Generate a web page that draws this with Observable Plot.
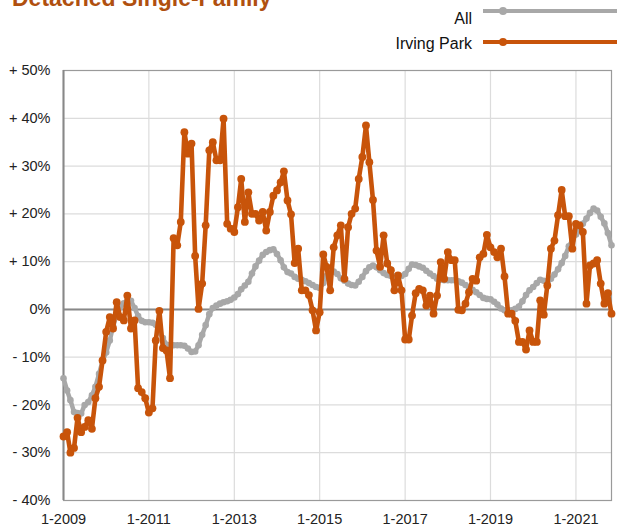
<!DOCTYPE html>
<html>
<head>
<meta charset="utf-8">
<script src="https://cdn.jsdelivr.net/npm/d3@7"></script>
<script src="https://cdn.jsdelivr.net/npm/@observablehq/plot@0.6"></script>
<style>
  html, body { margin: 0; padding: 0; background: #fff; overflow: hidden; }
  body { width: 617px; height: 526px; font-family: "Liberation Sans", Arial, Helvetica, sans-serif; }
  #head { position: relative; height: 55px; width: 617px; overflow: hidden; }
  #title { position: absolute; left: 12px; top: -13.5px; font-weight: bold; font-size: 23px; line-height: 23px; color: #b0500f; white-space: nowrap; }
  .lt { position: absolute; right: 145px; font-size: 16px; line-height: 16px; color: #111; white-space: nowrap; }
  .ll { position: absolute; left: 483px; width: 150px; height: 4px; }
  .ld { position: absolute; left: 499px; width: 8px; height: 8px; border-radius: 50%; }
  #chart svg { display: block; }
</style>
</head>
<body>
<div id="head"></div>
<div id="chart"></div>
<script>
// ---- data ----
const titleText = "Detached Single-Family";
const seriesNames = ["All", "Irving Park"];
const seriesColors = ["#a8a8a8", "#c8540a"];
const startYear = 2009;   // first value is 1-2009, monthly
const allValues = [
  -14.4, -17, -19, -21.5, -21.7, -21.8, -20, -19.4, -18, -16.2,
  -13.5, -10.8, -9, -6.5, -3.5, -1.2, 0.5, 1.3, 1.7, 1.8,
  0.3, -1.4, -2.4, -2.7, -2.7, -2.8, -3.2, -4.8, -6, -7.4,
  -7.5, -7.5, -7.5, -7.5, -7.6, -8.2, -8.9, -8.8, -7.5, -5.3,
  -3.3, -1, 0.3, 0.8, 1.2, 1.5, 1.7, 2, 2.5, 3.2,
  4.2, 5, 5.8, 7.5, 9, 10.2, 11.4, 12, 12.4, 12.6,
  11.6, 10.3, 8.8, 7.8, 7.5, 6.8, 6.4, 6.2, 5.9, 5.5,
  5.1, 4.7, 4.5, 5.5, 7, 8, 7.9, 7.4, 6.5, 6,
  5.4, 5.1, 5, 5.8, 6.8, 8, 8.8, 9.2, 8.8, 8.2,
  7.6, 7.2, 7, 6.9, 6.8, 7, 7.4, 8.5, 9.4, 9.3,
  9, 8.7, 8.1, 7.5, 7, 6.4, 6.2, 6.1, 6.1, 6.1,
  6.1, 5.9, 5.6, 5.1, 4.6, 4.1, 3.6, 3, 2.4, 2.2,
  2.1, 1.6, 1, 0.2, -0.2, -0.2, -0.2, 0.1, 0.6, 1.7,
  3, 4, 4.7, 5.5, 6.2, 6, 5.6, 6.4, 7.3, 8.4,
  9.7, 11.2, 13.2, 14.5, 15.7, 16.8, 17.9, 19, 20.2, 21.1,
  20.7, 19.4, 18, 16, 13.4
];
const irvingValues = [
  -26.6, -25.7, -30, -29, -22.7, -25.7, -24.6, -23.2, -25, -18.6,
  -16.2, -10.7, -4.7, -1.6, -4, 1.5, -1.6, -2.3, 2.9, -4,
  -2.3, -16.5, -17.3, -18.6, -21.6, -20.7, -6.5, -0.3, -8.1, -8.6,
  -14.4, 14.9, 13.4, 18.3, 37.1, 32.6, 34.7, 11.2, 0.1, 5.4,
  17.6, 33.3, 35, 31.2, 31.2, 39.9, 17.9, 16.9, 16.2, 21.4,
  27.3, 18.3, 24.5, 20, 20, 18.6, 20.4, 16.5, 20.4, 23.8,
  24.9, 26.6, 28.9, 22.8, 19.9, 9.7, 12.7, 4, 4, 3,
  -0.2, -4.4, -0.6, 11.5, 8.9, 4, 13, 15.5, 17.6, 6.4,
  17.2, 20, 21.1, 27.3, 31.9, 38.5, 30.8, 22.9, 12.3, 8.9,
  15.5, 9.6, 8.2, 4, 7.1, 4, -6.3, -6.3, -1.3, 3.4,
  4.3, 4, 0.8, 2.9, -0.9, 2.9, 9.9, 6.4, 12, 10.3,
  10.3, -0.1, -0.2, 1.2, 3.6, 6.4, 6, 10.9, 11.6, 15.6,
  13, 12, 10.9, 12.7, 6.9, -0.9, -0.9, -2.4, -6.8, -6.8,
  -8.4, -4.4, -6.8, -6.8, 1.9, -1.1, 5, 12.7, 14.4, 19.7,
  25, 19.5, 19.5, 12.7, 17.9, 17.6, 16.2, 1.2, 9.2, 9.6,
  10.3, 5.4, 1.2, 3.4, -0.9
];
const yTicks = [-40, -30, -20, -10, 0, 10, 20, 30, 40, 50];
const xTickYears = [2009, 2011, 2013, 2015, 2017, 2019, 2021];
const xTickLabels = ["1-2009", "1-2011", "1-2013", "1-2015", "1-2017", "1-2019", "1-2021"];

// ---- build tables ----
const monthDate = i => new Date(Date.UTC(startYear, i, 1));
const allData = allValues.map((v, i) => ({date: monthDate(i), value: v}));
const irvingData = irvingValues.map((v, i) => ({date: monthDate(i), value: v}));
const xTicks = xTickYears.map(y => new Date(Date.UTC(y, 0, 1)));
const xDomain = [monthDate(0), monthDate(allValues.length - 1)];
const yFormat = d => d > 0 ? `+ ${d}%` : d < 0 ? `- ${-d}%` : "0%";
const xFormat = d => xTickLabels[xTickYears.indexOf(d.getUTCFullYear())];

// ---- header: title + legend ----
const head = document.getElementById("head");
const t = document.createElement("div");
t.id = "title"; t.textContent = titleText; head.appendChild(t);
const legendY = [11, 42];       // line centre
const legendTextTop = [11, 36];
seriesNames.forEach((name, k) => {
  const s = document.createElement("div");
  s.className = "lt"; s.style.top = legendTextTop[k] + "px"; s.textContent = name;
  head.appendChild(s);
  const l = document.createElement("div");
  l.className = "ll"; l.style.top = (legendY[k] - 2) + "px"; l.style.background = seriesColors[k];
  head.appendChild(l);
  const d = document.createElement("div");
  d.className = "ld"; d.style.top = (legendY[k] - 4) + "px"; d.style.background = seriesColors[k];
  head.appendChild(d);
});

// ---- chart ----
const chart = Plot.plot({
  width: 617,
  height: 471,
  marginTop: 15,
  marginBottom: 26,
  marginLeft: 63,
  marginRight: 6,
  style: {fontFamily: '"Liberation Sans", Arial, Helvetica, sans-serif', fontSize: "14.5px", color: "#222", background: "#fff", overflow: "visible"},
  x: {type: "utc", domain: xDomain, ticks: xTicks, tickFormat: xFormat, tickSize: 0, tickPadding: 13, label: null},
  y: {domain: [-40, 50], ticks: yTicks, tickFormat: yFormat, tickSize: 0, tickPadding: 13, label: null},
  marks: [
    Plot.ruleY(yTicks, {stroke: "#dcdcdc", strokeWidth: 1.2}),
    Plot.ruleX(xTicks, {stroke: "#dcdcdc", strokeWidth: 1.2}),
    Plot.frame({stroke: "#9a9a9a", strokeWidth: 1.2}),
    Plot.ruleX([xDomain[0]], {stroke: "#888", strokeWidth: 2}),
    Plot.ruleY([0], {stroke: "#888", strokeWidth: 2}),
    Plot.line(allData, {x: "date", y: "value", stroke: seriesColors[0], strokeWidth: 4.5, strokeLinejoin: "round"}),
    Plot.dot(allData, {x: "date", y: "value", fill: seriesColors[0], r: 3.3}),
    Plot.line(irvingData, {x: "date", y: "value", stroke: seriesColors[1], strokeWidth: 4.6, strokeLinejoin: "round"}),
    Plot.dot(irvingData, {x: "date", y: "value", fill: seriesColors[1], r: 3.9})
  ]
});
document.getElementById("chart").appendChild(chart);
</script>
</body>
</html>
